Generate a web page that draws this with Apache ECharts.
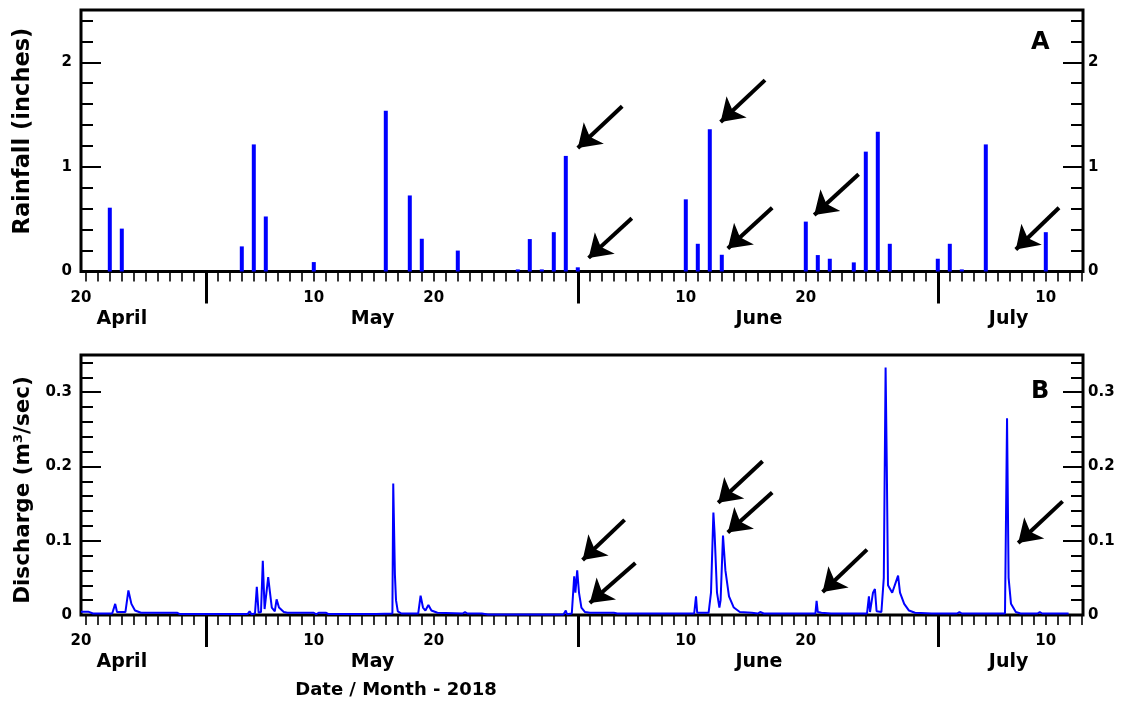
<!DOCTYPE html>
<html>
<head>
<meta charset="utf-8">
<script src="https://cdn.jsdelivr.net/npm/echarts@6/dist/echarts.min.js"></script>
<style>
  html, body { margin: 0; padding: 0; background: #fff; }
  #chart { width: 1122px; height: 709px; }
</style>
</head>
<body>
<div id="chart"></div>
<script>
// x values are day numbers counted from 31 March 2018:
// April 20 = 20, May 1 = 31, June 1 = 62, July 1 = 92.
const X_MIN = 20.6;
const X_MAX = 104.1;

// Daily rainfall (inches)
const rainDays   = [23, 24, 34, 35, 36, 40, 46, 48, 49, 52, 57, 58, 59, 60, 61, 62,
                    71, 72, 73, 74, 81, 82, 83, 85, 86, 87, 88, 92, 93, 94, 96, 101];
const rainInches = [0.61, 0.41, 0.24, 1.215, 0.526, 0.09, 1.538, 0.727, 0.313, 0.2, 0.02, 0.31, 0.02, 0.376, 1.105, 0.04,
                    0.69, 0.265, 1.36, 0.16, 0.477, 0.157, 0.122, 0.087, 1.146, 1.337, 0.265, 0.122, 0.265, 0.02, 1.215, 0.376];

// Stream discharge (m3/sec), fractional day numbers
const flowDays = [20.6, 21.2, 21.6, 23.2, 23.45, 23.6, 24.3, 24.55, 24.8, 25.1, 25.6, 28.6, 28.8,
  34.5, 34.65, 34.8, 35.1, 35.25, 35.4, 35.6, 35.75, 35.9, 36.05, 36.2, 36.35, 36.5, 36.75, 36.9, 37.1, 37.5, 37.8,
  40.0, 40.2, 40.4, 41.0, 41.2, 45.2, 46.55, 46.62, 46.72, 46.76, 46.85, 47.0, 47.3,
  48.7, 48.9, 49.1, 49.3, 49.55, 49.8, 50.3, 52.4, 52.6, 52.8, 54.0, 54.5,
  60.8, 61.0, 61.1, 61.5, 61.7, 61.8, 61.95, 62.1, 62.3, 62.6, 63.0, 65.0, 65.3,
  71.7, 71.85, 71.95, 72.9, 73.1, 73.3, 73.4, 73.6, 73.8, 73.9, 74.1, 74.3, 74.6, 75.0, 75.5, 76.5, 77.0, 77.2, 77.5,
  81.8, 81.9, 82.0, 82.3, 83.1, 86.1, 86.26, 86.35, 86.6, 86.76, 86.9, 87.3, 87.5, 87.65, 87.75, 87.85, 88.2, 88.69, 88.85,
  89.2, 89.6, 90.1, 91.5, 93.6, 93.8, 94.0, 97.6, 97.77, 97.9, 98.1, 98.5, 98.9, 100.3, 100.5, 100.7, 102.9];
const flowCms = [0.0045, 0.0045, 0.002, 0.002, 0.015, 0.004, 0.004, 0.033, 0.015, 0.006, 0.003, 0.003, 0.0015,
  0.0015, 0.005, 0.001, 0.002, 0.038, 0.003, 0.004, 0.073, 0.008, 0.01, 0.051, 0.03, 0.01, 0.005, 0.021, 0.01, 0.004, 0.003,
  0.003, 0.001, 0.003, 0.003, 0.0015, 0.0015, 0.002, 0.177, 0.175, 0.054, 0.02, 0.005, 0.002,
  0.002, 0.026, 0.01, 0.006, 0.0135, 0.006, 0.003, 0.002, 0.004, 0.002, 0.002, 0.0008,
  0.0008, 0.006, 0.001, 0.002, 0.052, 0.03, 0.06, 0.03, 0.01, 0.004, 0.003, 0.003, 0.002,
  0.002, 0.025, 0.003, 0.003, 0.03, 0.138, 0.11, 0.03, 0.01, 0.02, 0.107, 0.06, 0.025, 0.01, 0.004, 0.003, 0.002, 0.004, 0.002,
  0.002, 0.019, 0.004, 0.003, 0.002, 0.002, 0.025, 0.004, 0.03, 0.035, 0.005, 0.004, 0.05, 0.333, 0.2, 0.04, 0.03, 0.053, 0.03,
  0.015, 0.006, 0.003, 0.002, 0.002, 0.004, 0.002, 0.002, 0.265, 0.05, 0.015, 0.004, 0.002, 0.002, 0.004, 0.002, 0.002];

// Arrows: [tailDay, tailValue, tipDay, tipValue]
const rainArrows = [
  [65.7, 1.58, 62.0, 1.18],
  [66.5, 0.51, 62.9, 0.13],
  [77.6, 1.83, 73.9, 1.43],
  [78.2, 0.61, 74.5, 0.22],
  [85.4, 0.93, 81.7, 0.54],
  [102.1, 0.61, 98.5, 0.21]
];
const flowArrows = [
  [65.9, 0.128, 62.4, 0.074],
  [66.8, 0.070, 63.0, 0.016],
  [77.4, 0.207, 73.7, 0.151],
  [78.2, 0.165, 74.5, 0.111],
  [86.1, 0.088, 82.4, 0.031],
  [102.4, 0.153, 98.7, 0.097]
];

// Axis ticks and labels
const dayTicks = [];
for (let d = 21; d <= 104; d++) dayTicks.push(d);
const monthStarts = [31, 62, 92];
const dayLabelAt = [X_MIN, 40, 50, 71, 81, 101];
const dayLabelText = ['20', '10', '20', '10', '20', '10'];
const monthLabelAt = [24.0, 44.9, 77.1, 97.9];
const monthNames = ['April', 'May', 'June', 'July'];

const rainMajor = [0, 1, 2];
const rainMajorText = ['0', '1', '2'];
const rainMinor = [0.2, 0.4, 0.6, 0.8, 1.2, 1.4, 1.6, 1.8, 2.2, 2.4];
const flowMajor = [0, 0.1, 0.2, 0.3];
const flowMajorText = ['0', '0.1', '0.2', '0.3'];
const flowMinor = [0.02, 0.04, 0.06, 0.08, 0.12, 0.14, 0.16, 0.18, 0.22, 0.24, 0.26, 0.28, 0.32, 0.34];

const FONT = 'DejaVu Sans';
const BLUE = '#0000ff';

function pick(values, texts) {
  return function (v) {
    for (let i = 0; i < values.length; i++) {
      if (Math.abs(values[i] - v) < 1e-6) return texts[i];
    }
    return '';
  };
}

function xAxesFor(g) {
  const base = {
    gridIndex: g, type: 'value', min: X_MIN, max: X_MAX, position: 'bottom',
    splitLine: { show: false }, axisLine: { show: false, onZero: false }
  };
  return [
    Object.assign({}, base, {
      axisTick: { show: true, customValues: dayTicks, length: 10, lineStyle: { color: '#000', width: 1.6 } },
      axisLabel: {
        show: true, customValues: dayLabelAt, formatter: pick(dayLabelAt, dayLabelText),
        margin: 19, fontFamily: FONT, fontWeight: 'bold', fontSize: 15, color: '#000'
      }
    }),
    Object.assign({}, base, {
      axisTick: { show: true, customValues: monthStarts, length: 32, lineStyle: { color: '#000', width: 3 } },
      axisLabel: { show: false }
    }),
    Object.assign({}, base, {
      axisTick: { show: false },
      axisLabel: {
        show: true, customValues: monthLabelAt, formatter: pick(monthLabelAt, monthNames),
        margin: 38, fontFamily: FONT, fontWeight: 'bold', fontSize: 19, color: '#000'
      }
    })
  ];
}

function yAxesFor(g, max, major, majorText, minor) {
  const base = {
    gridIndex: g, type: 'value', min: 0, max: max,
    splitLine: { show: false }, axisLine: { show: false, onZero: false }
  };
  const labelStyle = { fontFamily: FONT, fontWeight: 'bold', fontSize: 15, color: '#000' };
  const majorTick = { show: true, inside: true, customValues: major, length: 20, lineStyle: { color: '#000', width: 2 } };
  const minorTick = { show: true, inside: true, customValues: minor, length: 12, lineStyle: { color: '#000', width: 2 } };
  return [
    Object.assign({}, base, {
      position: 'left', axisTick: majorTick,
      axisLabel: Object.assign({ show: true, customValues: major, formatter: pick(major, majorText), margin: 9 }, labelStyle)
    }),
    Object.assign({}, base, { position: 'left', axisTick: minorTick, axisLabel: { show: false } }),
    Object.assign({}, base, {
      position: 'right', axisTick: majorTick,
      axisLabel: Object.assign({ show: true, customValues: major, formatter: pick(major, majorText), margin: 5 }, labelStyle)
    }),
    Object.assign({}, base, { position: 'right', axisTick: minorTick, axisLabel: { show: false } })
  ];
}

function arrowSeries(list, xi, yi) {
  return {
    type: 'lines', coordinateSystem: 'cartesian2d', xAxisIndex: xi, yAxisIndex: yi,
    symbol: ['none', 'arrow'], symbolSize: 22, silent: true, z: 5,
    lineStyle: { color: '#000', width: 4, opacity: 1, curveness: 0 },
    data: list.map(a => ({ coords: [[a[0], a[1]], [a[2], a[3]]] }))
  };
}

function axisTitle(text, x, y, size) {
  return {
    type: 'text', x: x, y: y, rotation: Math.PI / 2,
    style: {
      text: text, textAlign: 'center', textVerticalAlign: 'middle',
      fontFamily: FONT, fontWeight: 'bold', fontSize: size, fill: '#000',
      rich: { sup: { fontFamily: FONT, fontWeight: 'bold', fontSize: 13, fill: '#000', padding: [0, 0, 9, 0] } }
    }
  };
}

const chart = echarts.init(document.getElementById('chart'), null, { renderer: 'canvas' });
chart.setOption({
  animation: false,
  backgroundColor: '#fff',
  grid: [
    { left: 81, right: 39, top: 10, height: 261.5, show: true, borderColor: '#000', borderWidth: 3, backgroundColor: 'transparent' },
    { left: 81, right: 39, top: 355, height: 260, show: true, borderColor: '#000', borderWidth: 3, backgroundColor: 'transparent' }
  ],
  xAxis: xAxesFor(0).concat(xAxesFor(1)),
  yAxis: yAxesFor(0, 2.5, rainMajor, rainMajorText, rainMinor)
    .concat(yAxesFor(1, 0.35, flowMajor, flowMajorText, flowMinor)),
  series: [
    {
      type: 'bar', xAxisIndex: 0, yAxisIndex: 0, barWidth: 4, silent: true,
      itemStyle: { color: BLUE },
      data: rainDays.map((d, i) => [d, rainInches[i]])
    },
    {
      type: 'line', xAxisIndex: 3, yAxisIndex: 4, showSymbol: false, silent: true,
      lineStyle: { color: BLUE, width: 2 },
      data: flowDays.map((d, i) => [d, flowCms[i]])
    },
    arrowSeries(rainArrows, 0, 0),
    arrowSeries(flowArrows, 3, 4)
  ],
  graphic: [
    axisTitle('Rainfall (inches)', 23, 131, 22.5),
    axisTitle('Discharge (m{sup|3}/sec)', 23, 490, 21.5),
    { type: 'text', left: 1031, top: 31, style: { text: 'A', font: 'bold 24px "DejaVu Sans"', fill: '#000' } },
    { type: 'text', left: 1031, top: 380, style: { text: 'B', font: 'bold 24px "DejaVu Sans"', fill: '#000' } },
    { type: 'text', x: 396, y: 690, style: { text: 'Date / Month - 2018', textAlign: 'center', textVerticalAlign: 'middle', font: 'bold 18px "DejaVu Sans"', fill: '#000' } }
  ]
});
</script>
</body>
</html>
